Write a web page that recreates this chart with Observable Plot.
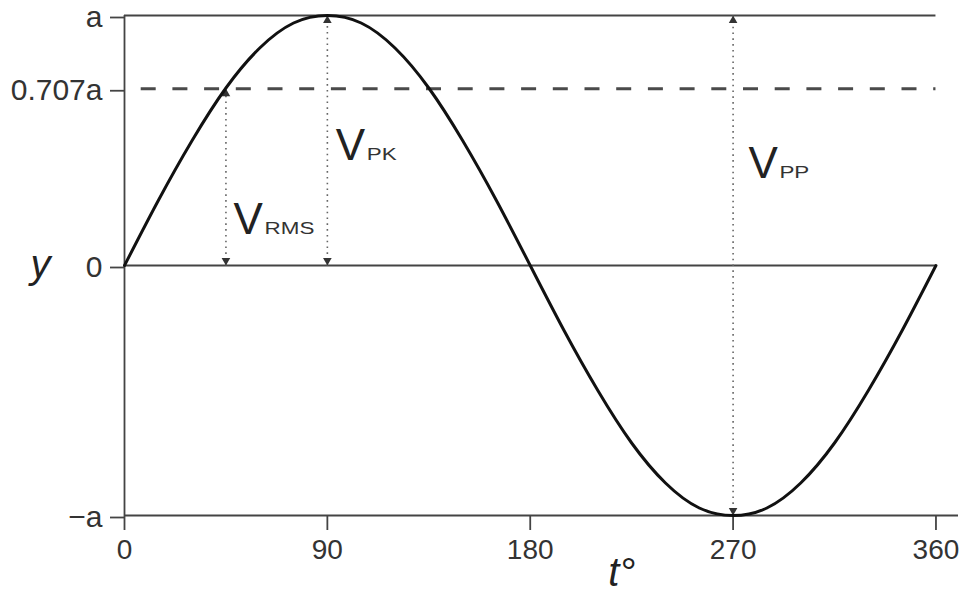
<!DOCTYPE html>
<html>
<head>
<meta charset="utf-8">
<script src="https://cdn.jsdelivr.net/npm/d3@7"></script>
<script src="https://cdn.jsdelivr.net/npm/@observablehq/plot@0.6"></script>
<style>
  html, body { margin: 0; padding: 0; background: #ffffff; }
</style>
</head>
<body>
<div id="chart"></div>
<script>
// Tick values and labels
const tickT = [0, 90, 180, 270, 360];
const tickY = [-1, 0, 0.707, 1];
const tickYLabels = ["−a", "0", "0.707a", "a"];

// Waveform (every 15°)
const curveT = [0, 15, 30, 45, 60, 75, 90, 105, 120, 135, 150, 165, 180,
                195, 210, 225, 240, 255, 270, 285, 300, 315, 330, 345, 360];
const curveY = [0, 0.26, 0.5, 0.71, 0.87, 0.97, 1, 0.97, 0.87, 0.71, 0.5, 0.26, 0,
                -0.26, -0.5, -0.71, -0.87, -0.97, -1, -0.97, -0.87, -0.71, -0.5, -0.26, 0];

// Measurement arrows
const arrowT = [45, 90, 270];
const arrowFrom = [0, 0, -1];
const arrowTo = [0.707, 1, 1];

// Annotation labels
const labelMain = ["V", "V", "V"];
const labelSub = ["RMS", "PK", "PP"];
const labelT = [48.4, 93.7, 276.8];
const labelY = [0.128, 0.424, 0.352];

const curve = curveT.map((t, i) => ({t, y: curveY[i]}));
const arrows = arrowT.map((t, i) => ({t, y1: arrowFrom[i], y2: arrowTo[i]}));
const labels = labelT.map((t, i) => ({t, y: labelY[i], main: labelMain[i], sub: labelSub[i]}));

const axisColor = "#444";

const chart = Plot.plot({
  width: 963,
  height: 594,
  marginLeft: 124,
  marginRight: 5,
  marginTop: 15,
  marginBottom: 79,
  x: {domain: [0, 370], axis: null},
  y: {domain: [-1, 1], axis: null},
  style: {fontFamily: "'Liberation Sans', Arial, sans-serif", color: "#333", background: "#ffffff", overflow: "visible"},
  marks: [
    // reference lines
    Plot.ruleY([1], {x1: 0, x2: 360, stroke: axisColor, strokeWidth: 1.8}),
    Plot.ruleY([0], {x1: 0, x2: 360, stroke: axisColor, strokeWidth: 1.8}),
    Plot.ruleY([0.707], {x1: 0, x2: 360, stroke: "#4a4a4a", strokeWidth: 2.8, strokeDasharray: "15,16.7", strokeDashoffset: 15}),
    Plot.ruleY([-1], {stroke: axisColor, strokeWidth: 1.8}),
    Plot.ruleX([0], {y1: -1, y2: 1, stroke: axisColor, strokeWidth: 1.8}),
    // axes
    Plot.axisY({
      ticks: tickY,
      tickFormat: d => tickYLabels[tickY.indexOf(d)],
      tickSize: 14,
      tickPadding: 8,
      fontSize: 30,
      dy: 2,
      stroke: axisColor,
      strokeWidth: 1.8,
      fill: "#333",
      label: null
    }),
    Plot.axisX({
      ticks: tickT,
      tickFormat: d => String(d),
      tickSize: 15,
      tickPadding: 9,
      fontSize: 28,
      stroke: axisColor,
      strokeWidth: 1.8,
      fill: "#333",
      label: null
    }),
    // dotted measurement lines
    Plot.link(arrows, {x1: "t", x2: "t", y1: "y1", y2: "y2", stroke: "#666", strokeWidth: 1.6, strokeDasharray: "1.6,4.2"}),
    Plot.dot(arrows, {x: "t", y: "y2", symbol: "triangle", r: 3.2, fill: "#333", stroke: "none", dy: 5}),
    Plot.dot(arrows, {x: "t", y: "y1", symbol: "triangle", r: 3.2, fill: "#333", stroke: "none", rotate: 180, dy: -5}),
    // waveform
    Plot.line(curve, {x: "t", y: "y", curve: "natural", stroke: "#111", strokeWidth: 3}),
    // annotation labels
    Plot.text(labels, {x: "t", y: "y", text: "main", textAnchor: "start", lineAnchor: "bottom", fontSize: 44, fill: "#222"}),
    Plot.text(labels, {x: "t", y: "y", text: "sub", textAnchor: "start", lineAnchor: "bottom", fontSize: 16, dx: 31, fill: "#333"}),
    // axis titles
    Plot.text(["y"], {y: [0], text: d => d, frameAnchor: "left", dx: -84, textAnchor: "middle", lineAnchor: "middle", fontSize: 40, fontStyle: "italic", fill: "#222"}),
    Plot.text(["t°"], {x: [220.6], text: d => d, frameAnchor: "bottom", dy: 70, textAnchor: "middle", lineAnchor: "bottom", fontSize: 40, fontStyle: "italic", fill: "#222"})
  ]
});

document.getElementById("chart").appendChild(chart);

// Subscripts in the reference are drawn horizontally stretched
d3.select(chart).selectAll("text")
  .filter(function() { return labelSub.includes(this.textContent); })
  .each(function() {
    const w = this.getComputedTextLength();
    this.setAttribute("textLength", (w * 1.4).toFixed(1));
    this.setAttribute("lengthAdjust", "spacingAndGlyphs");
  });
</script>
</body>
</html>
